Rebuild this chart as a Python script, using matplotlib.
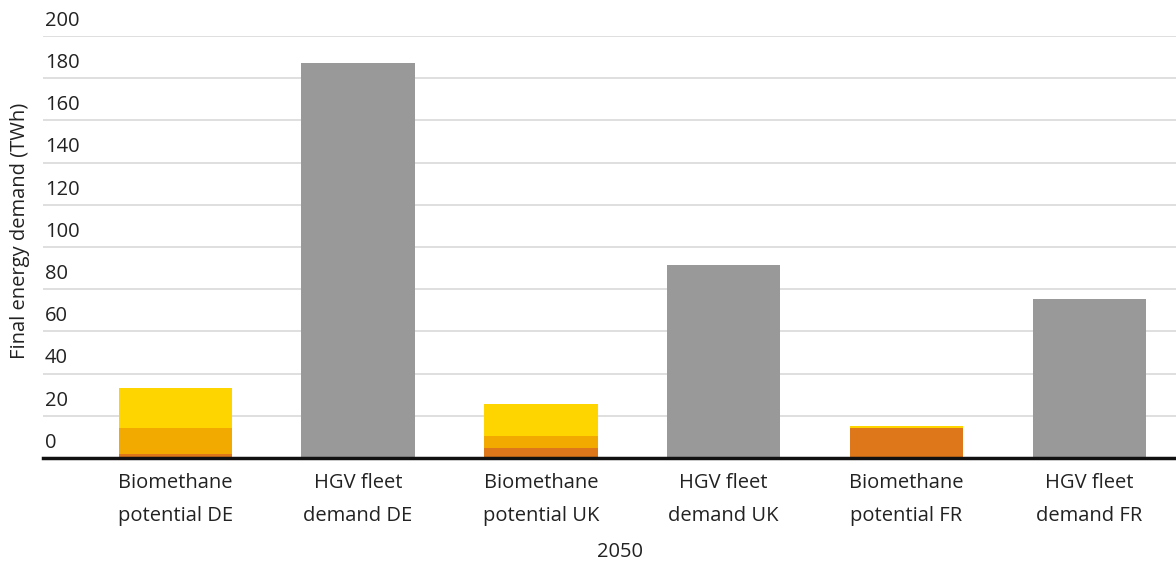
import numpy as np
import matplotlib.pyplot as plt

plt.rcParams['font.family'] = ['Open Sans', 'DejaVu Sans']

# data (TWh)
categories = ['Biomethane\npotential DE', 'HGV fleet\ndemand DE',
              'Biomethane\npotential UK', 'HGV fleet\ndemand UK',
              'Biomethane\npotential FR', 'HGV fleet\ndemand FR']
bio_low = [2.1, 0, 4.7, 0, 14.4, 0]      # dark orange segment
bio_mid = [12.1, 0, 5.6, 0, 0.0, 0]      # amber segment
bio_high = [19.0, 0, 15.5, 0, 0.6, 0]    # yellow segment
hgv_demand = [0, 187.2, 0, 91.5, 0, 75.4]
yticks = [0, 20, 40, 60, 80, 100, 120, 140, 160, 180, 200]

fs = 14.5
txt = '#222222'

fig = plt.figure(figsize=(11.76, 5.66), dpi=100)
ax = fig.add_axes([43/1176, 108/566, 1133/1176, 422/566])

x = np.arange(len(categories))
w = 0.62
b1 = np.array(bio_low)
b2 = b1 + np.array(bio_mid)
ax.bar(x, bio_low, w, color='#DD771A', zorder=3)
ax.bar(x, bio_mid, w, bottom=b1, color='#F2A900', zorder=3)
ax.bar(x, bio_high, w, bottom=b2, color='#FFD500', zorder=3)
ax.bar(x, hgv_demand, w, color='#999999', zorder=3)

ax.set_xlim(-0.724, 5.475)
ax.set_ylim(0, 200)

# gridlines with the labels sitting above them
for t in yticks[1:]:
    ax.axhline(t, color='#D9D9D9', lw=1.2, zorder=1)
for t in yticks:
    ax.text(2/1133, t + 2.5, str(t), transform=ax.get_yaxis_transform(),
            ha='left', va='bottom', fontsize=fs, color=txt)
ax.axhline(0, color='#111111', lw=2.5, zorder=4, clip_on=False)

for s in ax.spines.values():
    s.set_visible(False)
ax.set_yticks([])
ax.set_xticks(x)
ax.set_xticklabels(categories, fontsize=fs, linespacing=1.9, color=txt)
ax.tick_params(axis='x', length=0, pad=10.5)

fig.text(620/1176, 1 - 552/566, '2050', ha='center', va='center', fontsize=fs, color=txt)
fig.text(20/1176, 1 - 231/566, 'Final energy demand (TWh)', rotation=90,
         ha='center', va='center', fontsize=fs, color=txt)

fig.savefig('out.png', dpi=100)
